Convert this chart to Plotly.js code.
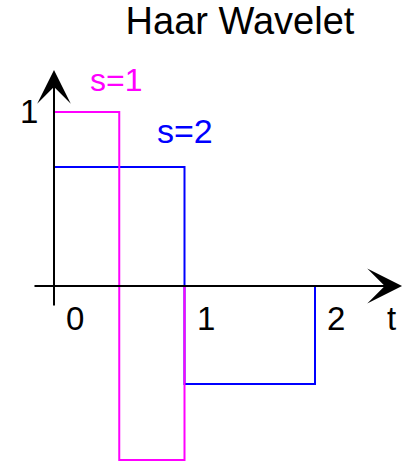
<!DOCTYPE html>
<html>
<head>
<meta charset="utf-8">
<script src="https://cdn.plot.ly/plotly-3.0.1.min.js"></script>
<style>html,body{margin:0;padding:0;background:#fff;}#chart{width:404px;height:461px;}</style>
</head>
<body>
<div id="chart"></div>
<script>
// Data
const s1T = [0, 0, 0.5, 0.5, 1, 1];
const s1Y = [0, 1, 1, -1, -1, 0];
const s2T = [0, 0, 1, 1, 2, 2];
const s2Y = [0, 0.684, 0.684, -0.563, -0.563, 0];
const tickVals = [0, 1, 2];
const tickText = ['0', '1', '2'];
const yTickVals = [1];
const yTickText = ['1'];
const seriesNames = ['s=2', 's=1'];

const FONT = 'Liberation Sans, Arial, sans-serif';

const traces = [
  {x: s2T, y: s2Y, mode: 'lines', name: seriesNames[0], line: {color: '#0000FF', width: 2}, hoverinfo: 'skip'},
  {x: s1T, y: s1Y, mode: 'lines', name: seriesNames[1], line: {color: '#FF00FF', width: 2}, hoverinfo: 'skip'}
];

const annotations = [];
// axes with arrows
annotations.push({x: 2.667, y: 0, ax: -0.161, ay: 0, xref: 'x', yref: 'y', axref: 'x', ayref: 'y',
  text: '', showarrow: true, arrowhead: 3, arrowsize: 2.9, arrowwidth: 2, arrowcolor: '#000', standoff: 0, startstandoff: 0});
annotations.push({x: 0, y: 1.241, ax: 0, ay: -0.121, xref: 'x', yref: 'y', axref: 'x', ayref: 'y',
  text: '', showarrow: true, arrowhead: 3, arrowsize: 2.8, arrowwidth: 2, arrowcolor: '#000', standoff: 0, startstandoff: 0});
// x tick labels
tickVals.forEach((v, i) => annotations.push({x: v, y: 0, xref: 'x', yref: 'y', text: tickText[i], showarrow: false,
  xanchor: 'center', yanchor: 'middle', xshift: 21, yshift: -32, font: {family: FONT, size: 33, color: '#000'}}));
// y tick label
yTickVals.forEach((v, i) => annotations.push({x: 0, y: v, xref: 'x', yref: 'y', text: yTickText[i], showarrow: false,
  xanchor: 'center', yanchor: 'middle', xshift: -25, yshift: 1, font: {family: FONT, size: 33, color: '#000'}}));
// axis label t
annotations.push({x: 2.59, y: 0, xref: 'x', yref: 'y', text: 't', showarrow: false, xanchor: 'center', yanchor: 'middle',
  yshift: -32, font: {family: FONT, size: 33, color: '#000'}});
// series labels
annotations.push({x: 0.475, y: 1.184, xref: 'x', yref: 'y', text: seriesNames[1], showarrow: false, xanchor: 'center', yanchor: 'middle',
  font: {family: FONT, size: 32, color: '#FF00FF'}});
annotations.push({x: 1.004, y: 0.891, xref: 'x', yref: 'y', text: seriesNames[0], showarrow: false, xanchor: 'center', yanchor: 'middle',
  font: {family: FONT, size: 34, color: '#0000FF'}});

const layout = {
  width: 404, height: 461,
  margin: {l: 0, r: 0, t: 0, b: 0, pad: 0},
  paper_bgcolor: '#fff', plot_bgcolor: '#fff',
  showlegend: false,
  title: {text: 'Haar Wavelet', x: 0.594, xanchor: 'center', xref: 'container', y: 0.9544, yanchor: 'middle', yref: 'container',
    font: {family: FONT, size: 38, color: '#000'}},
  xaxis: {range: [-0.4138, 2.682], visible: false, fixedrange: true},
  yaxis: {range: [-1.0057, 1.6437], visible: false, fixedrange: true},
  annotations: annotations
};

Plotly.newPlot('chart', traces, layout, {staticPlot: true, displayModeBar: false});
</script>
</body>
</html>
